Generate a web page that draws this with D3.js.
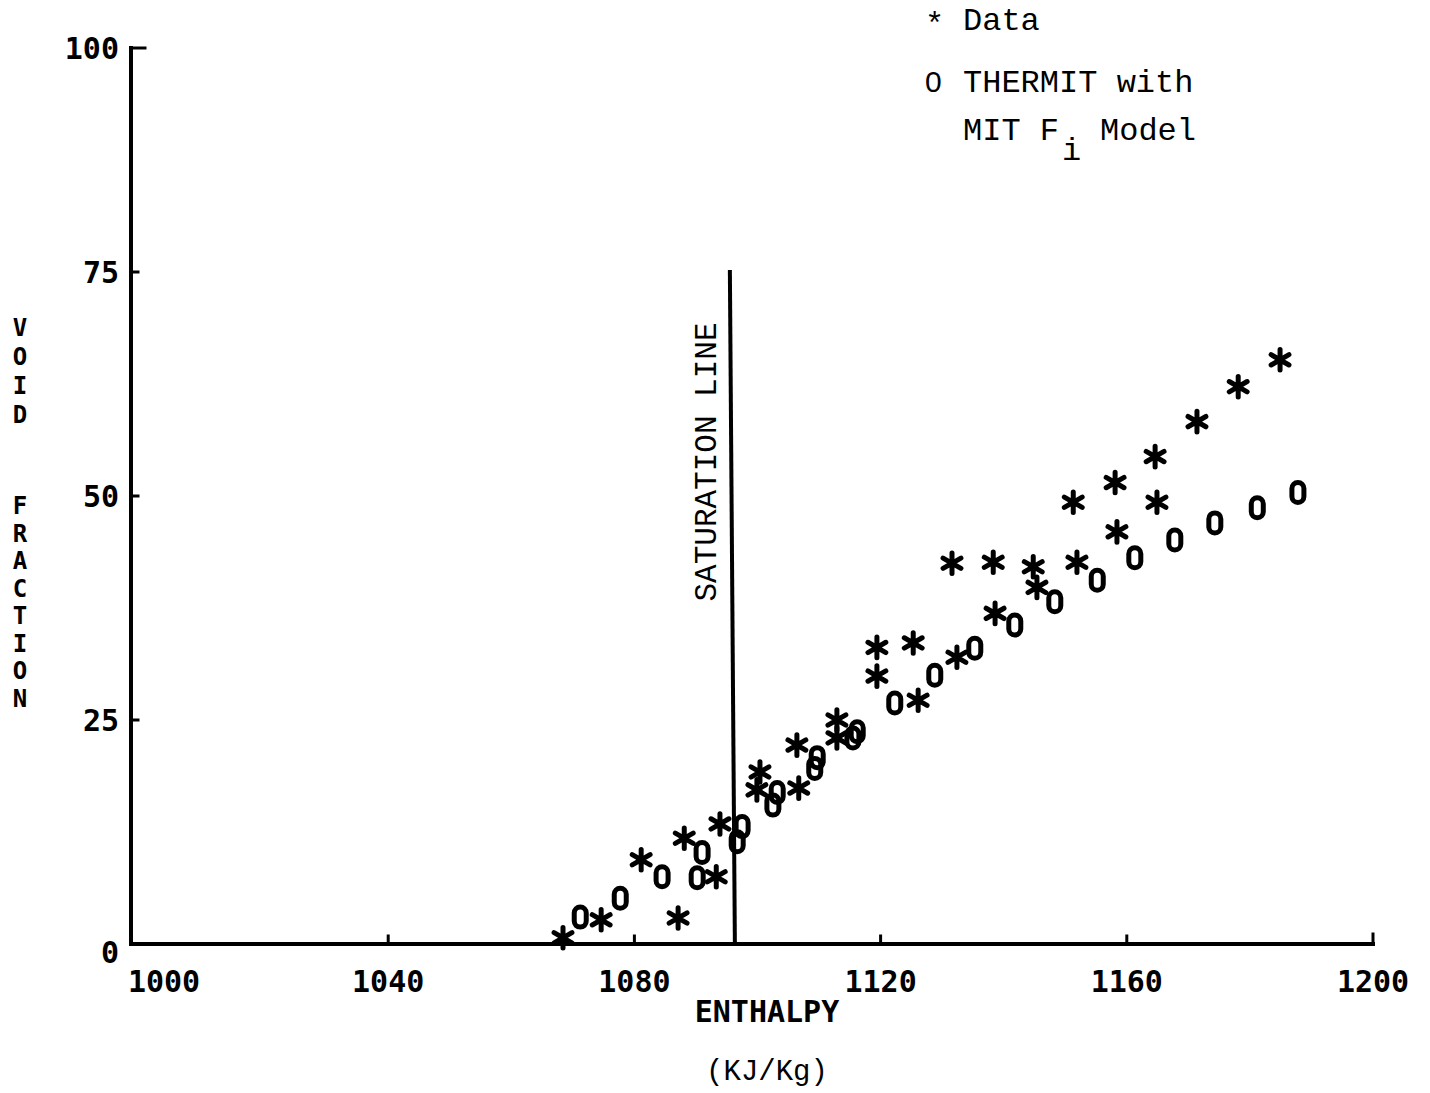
<!DOCTYPE html>
<html><head><meta charset="utf-8">
<script src="https://cdn.jsdelivr.net/npm/d3@7"></script>
<style>html,body{margin:0;padding:0;background:#fff;}svg{display:block;}</style>
</head><body>
<script>
// ---- data ----
const xTicks = [1000, 1040, 1080, 1120, 1160, 1200];
const yTicks = [0, 25, 50, 75, 100];
const saturationEnthalpy = 1096;
const saturationTop = 75;
// Measured data (*)
const dataX = [1068.4,1074.6,1081.1,1088.1,1087.1,1093.9,1093.3,1100.4,1099.9,1106.4,1106.7,1112.9,1112.9,1119.4,1119.4,1125.3,1126.1,1132.4,1131.6,1138.3,1138.6,1144.8,1145.4,1151.9,1158.4,1151.3,1158.1,1164.6,1164.9,1171.4,1178.1,1184.9];
const dataY = [0.7,2.7,9.4,11.8,2.9,13.4,7.5,19.2,17.2,22.2,17.4,25.0,23.0,33.1,29.9,33.6,27.2,32.0,42.5,42.6,36.9,42.1,39.8,42.6,46.0,49.3,51.5,54.4,49.3,58.3,62.2,65.2];
// THERMIT with MIT Fi model (0)
const modelX = [1071.2,1077.7,1084.5,1091.0,1090.2,1097.5,1096.7,1103.2,1102.5,1109.7,1109.3,1116.2,1115.5,1122.3,1128.8,1135.3,1141.8,1148.3,1155.2,1161.3,1167.8,1174.3,1181.2,1187.8];
const modelY = [3.0,5.1,7.5,10.2,7.4,13.1,11.4,16.9,15.5,20.8,19.6,23.7,23.0,26.9,30.0,33.0,35.6,38.2,40.6,43.1,45.1,47.0,48.7,50.4];
const yLabelTop = ["V","O","I","D"];
const yLabelBottom = ["F","R","A","C","T","I","O","N"];

// ---- drawing ----
const W = 1430, H = 1093;
const svg = d3.select("body").append("svg").attr("width", W).attr("height", H);
const x = d3.scaleLinear().domain([1000, 1200]).range([142, 1373]);
const y = d3.scaleLinear().domain([0, 100]).range([944, 48]);
const axisX0 = 131;
const plot = "DejaVu Sans Mono, monospace";
const courier = "Liberation Mono, monospace";

// axes
const g = svg.append("g").attr("stroke", "#000").attr("stroke-linecap", "square").attr("fill", "none");
g.append("line").attr("x1", axisX0).attr("x2", axisX0).attr("y1", y(0)).attr("y2", y(100)).attr("stroke-width", 4);
g.append("line").attr("x1", axisX0).attr("x2", x(1200)).attr("y1", y(0)).attr("y2", y(0)).attr("stroke-width", 4);
g.selectAll(".yt").data(yTicks.filter(d => d > 0)).join("line")
  .attr("x1", axisX0).attr("x2", d => d === 100 ? axisX0 + 14 : axisX0 + 7)
  .attr("y1", d => y(d)).attr("y2", d => y(d)).attr("stroke-width", 3);
g.selectAll(".xt").data(xTicks.filter(d => d > 1000)).join("line")
  .attr("x1", d => x(d)).attr("x2", d => x(d))
  .attr("y1", y(0)).attr("y2", d => d === 1200 ? y(0) - 10 : y(0) - 8).attr("stroke-width", 3);
g.append("line").attr("x1", x(saturationEnthalpy) - 3).attr("x2", x(saturationEnthalpy) + 2)
  .attr("y1", y(saturationTop)).attr("y2", y(0)).attr("stroke-width", 4);

// tick labels
svg.selectAll(".xl").data(xTicks).join("text")
  .attr("x", d => d === 1000 ? x(d) + 22 : x(d))
  .attr("y", 992).attr("text-anchor", "middle")
  .attr("font-family", plot).attr("font-weight", "bold").attr("font-size", 30)
  .text(d => d);
svg.selectAll(".yl").data(yTicks).join("text")
  .attr("x", 119).attr("y", d => d === 0 ? y(d) + 19 : y(d) + 11)
  .attr("text-anchor", "end")
  .attr("font-family", plot).attr("font-weight", "bold").attr("font-size", 30)
  .text(d => d);

// axis titles
svg.append("text").attr("x", 767).attr("y", 1022).attr("text-anchor", "middle")
  .attr("font-family", plot).attr("font-weight", "bold").attr("font-size", 30).text("ENTHALPY");
svg.append("text").attr("x", 767).attr("y", 1080).attr("text-anchor", "middle")
  .attr("font-family", courier).attr("font-size", 29).text("(KJ/Kg)");
const yl = svg.append("g").attr("font-family", plot).attr("font-weight", "bold")
  .attr("font-size", 24).attr("text-anchor", "middle");
yl.selectAll(".a").data(yLabelTop).join("text")
  .attr("x", 20).attr("y", (d, i) => 336 + i * 29).text(d => d);
yl.selectAll(".b").data(yLabelBottom).join("text")
  .attr("x", 20).attr("y", (d, i) => 514 + i * 27.5).text(d => d);

// saturation label
svg.append("text").attr("transform", `translate(716,${462}) rotate(-90)`)
  .attr("text-anchor", "middle").attr("font-family", courier).attr("font-size", 31)
  .text("SATURATION LINE");

// markers
const star = d3.symbol().type(d3.symbolAsterisk).size(300);
svg.append("g").selectAll("path").data(dataX.map((v, i) => [v, dataY[i]])).join("path")
  .attr("transform", d => `translate(${x(d[0])},${y(d[1])})`)
  .attr("d", star).attr("fill", "none").attr("stroke", "#000")
  .attr("stroke-width", 5).attr("stroke-linecap", "round");
svg.append("g").selectAll("rect").data(modelX.map((v, i) => [v, modelY[i]])).join("rect")
  .attr("x", d => x(d[0]) - 6).attr("y", d => y(d[1]) - 10)
  .attr("width", 12).attr("height", 20).attr("rx", 6).attr("ry", 6)
  .attr("fill", "none").attr("stroke", "#000").attr("stroke-width", 5);

// legend
const lg = svg.append("g").attr("font-family", courier).attr("font-size", 32).attr("fill", "#000");
lg.append("text").attr("x", 925).attr("y", 34).text("*");
lg.append("text").attr("x", 963).attr("y", 30).text("Data");
lg.append("text").attr("x", 925).attr("y", 92).attr("font-family", "Liberation Sans, sans-serif").attr("font-size", 30).text("0");
lg.append("text").attr("x", 963).attr("y", 92).text("THERMIT with");
const t3 = lg.append("text").attr("x", 963).attr("y", 140);
t3.append("tspan").text("MIT F");
t3.append("tspan").attr("x", 1062).attr("dy", 20).text("i");
t3.append("tspan").attr("x", 1100).attr("dy", -20).text("Model");
</script>
</body></html>
